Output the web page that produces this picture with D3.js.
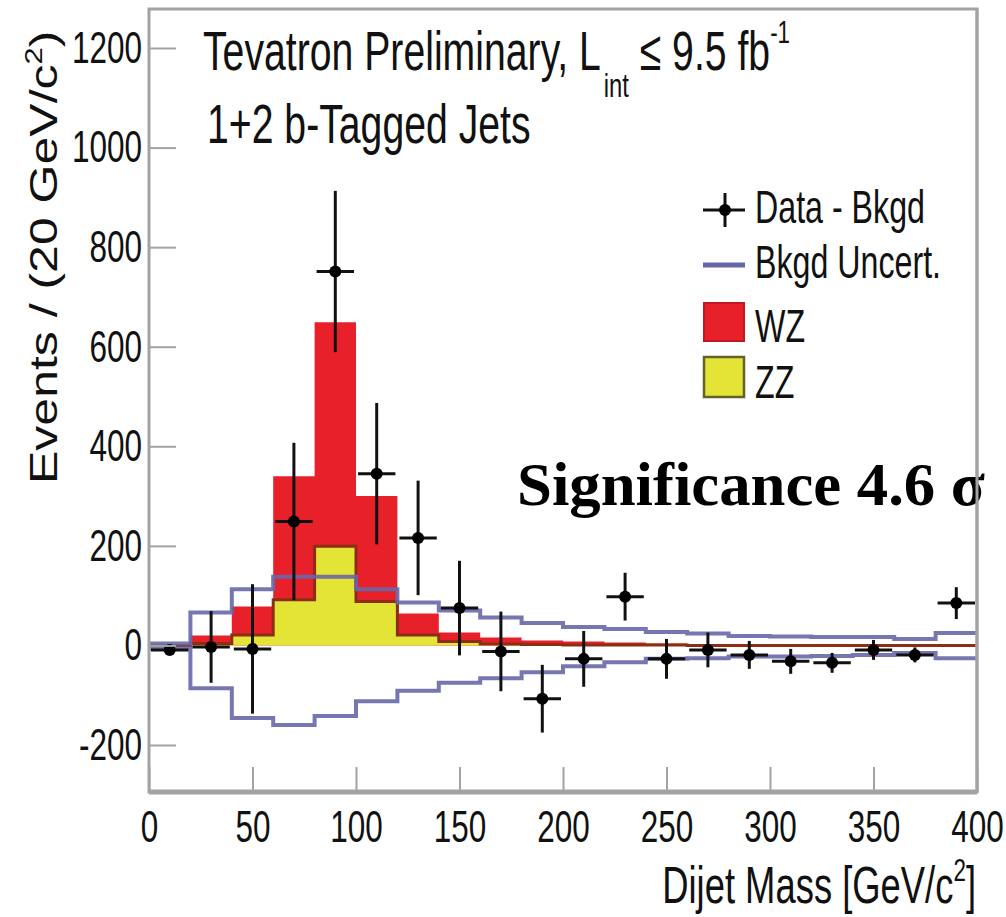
<!DOCTYPE html>
<html>
<head>
<meta charset="utf-8">
<title>Dijet Mass</title>
<style>
  body { margin: 0; background: #fff; }
  text { font-family: "Liberation Sans", Arial, sans-serif; fill: #111; }
  text.note { font-family: "Liberation Serif", "Times New Roman", serif; font-weight: bold; fill: #000; }
</style>
</head>
<body>
<script src="https://d3js.org/d3.v7.min.js"></script>
<script>

var width = 1006,
    height = 917,
    frameLeft = 149, frameRight = 977, frameTop = 9, frameBottom = 792,
    squeeze = 0.7,               // the original picture is squashed sideways
    redFill = "#e8202a",
    yellowFill = "#e4e436",
    zzLine = "#8a2e14",
    bandColor = "#6767a8",
    frameColor = "#a3a3a3";

// histogram bins (lower edge, GeV/c^2), 20 GeV wide
var binLow = [0, 20, 40, 60, 80, 100, 120, 140, 160, 180, 200, 220, 240, 260, 280, 300, 320, 340, 360, 380];
var binWidth = 20;

// expected signal, stacked: ZZ at the bottom, WZ on top
var zzYield = [0, 4, 21, 92, 199, 88, 21, 8, 3, 2, 1, 1, 1, 0, 0, 0, 0, 0, 0, 0];
var wzYield = [0, 16, 57, 248, 450, 212, 43, 18, 13, 8, 7, 5, 3, 3, 2, 2, 2, 1, 1, 1];

// background uncertainty band (upper / lower edge)
var bkgUp   = [4, 66, 113, 138, 138, 113, 86, 70, 56, 45, 37, 33, 27, 24, 19, 18, 17, 17, 13, 25];
var bkgDown = [-6, -86, -146, -160, -142, -112, -91, -75, -66, -54, -42, -34, -27, -26, -22, -22, -21, -19, -15, -26];

// data minus background
var dataMass  = [10, 30, 50, 70, 90, 110, 130, 150, 170, 190, 210, 230, 250, 270, 290, 310, 330, 350, 370, 390];
var dataValue = [-9, -3, -7, 249, 751, 345, 216, 75, -12, -107, -27, 98, -27, -9, -19, -32, -35, -9, -19, 85];
var dataErr   = [9, 72, 130, 158, 162, 142, 115, 95, 80, 68, 56, 48, 40, 35, 28, 25, 20, 20, 15, 32];

var yMajor = [-200, 0, 200, 400, 600, 800, 1000, 1200];
var yMinor = [-250, -150, -100, -50, 50, 100, 150, 250, 300, 350, 450, 500, 550, 650, 700, 750, 850, 900, 950, 1050, 1100, 1150, 1250];
var xMajor = [0, 50, 100, 150, 200, 250, 300, 350, 400];
var xMinor = [10, 20, 30, 40, 60, 70, 80, 90, 110, 120, 130, 140, 160, 170, 180, 190, 210, 220, 230, 240,
              260, 270, 280, 290, 310, 320, 330, 340, 360, 370, 380, 390];

var svg = d3.select("body").append("svg")
    .attr("width", width)
    .attr("height", height);

var x = d3.scaleLinear().domain([0, 400]).range([frameLeft, frameRight]);
var y = d3.scaleLinear().domain([-200, 1200]).range([745, 48]);

// step points for a histogram, closing at the last bin edge
function steps(vals) {
    var pts = binLow.map(function (b, i) { return { m: b, v: vals[i] }; });
    pts.push({ m: binLow[binLow.length - 1] + binWidth, v: vals[vals.length - 1] });
    return pts;
}

var stackTop = zzYield.map(function (d, i) { return d + wzYield[i]; });

var area = d3.area()
    .curve(d3.curveStepAfter)
    .x(function (d) { return x(d.m); })
    .y0(y(0))
    .y1(function (d) { return y(d.v); });

var stepLine = d3.line()
    .curve(d3.curveStepAfter)
    .x(function (d) { return x(d.m); })
    .y(function (d) { return y(d.v); });

var plot = svg.append("g");

// WZ (drawn as full stack) then ZZ over it
plot.append("path").attr("d", area(steps(stackTop))).attr("fill", redFill);
plot.append("path").attr("d", area(steps(zzYield))).attr("fill", yellowFill);
plot.append("path").attr("d", stepLine(steps(zzYield)))
    .attr("fill", "none").attr("stroke", zzLine).attr("stroke-width", 3);

// background uncertainty band
[bkgUp, bkgDown].forEach(function (vals) {
    plot.append("path").attr("d", stepLine(steps(vals)))
        .attr("fill", "none").attr("stroke", bandColor).attr("stroke-width", 4)
        .attr("stroke-opacity", 0.9);
});

// data points with error bars
var pts = plot.selectAll("g.pt")
    .data(dataMass.map(function (m, i) { return { m: m, v: dataValue[i], e: dataErr[i] }; }))
    .enter().append("g").attr("class", "pt");

pts.append("line")
    .attr("x1", function (d) { return x(d.m - binWidth / 2) + 2; })
    .attr("x2", function (d) { return x(d.m + binWidth / 2) - 2; })
    .attr("y1", function (d) { return y(d.v); })
    .attr("y2", function (d) { return y(d.v); })
    .attr("stroke", "#111").attr("stroke-width", 3);
pts.append("line")
    .attr("x1", function (d) { return x(d.m); })
    .attr("x2", function (d) { return x(d.m); })
    .attr("y1", function (d) { return y(d.v + d.e); })
    .attr("y2", function (d) { return y(d.v - d.e); })
    .attr("stroke", "#111").attr("stroke-width", 3);
pts.append("circle")
    .attr("cx", function (d) { return x(d.m); })
    .attr("cy", function (d) { return y(d.v); })
    .attr("r", 6).attr("fill", "#000");

// axes: ticks point into the frame
var plain = function (d) { return String(d); };

var axisY = svg.append("g").attr("transform", "translate(" + frameLeft + ",0)");
axisY.call(d3.axisLeft(y).tickValues(yMinor).tickSize(-13).tickFormat(""));
axisY.call(d3.axisLeft(y).tickValues(yMajor).tickSize(-27).tickPadding(7).tickFormat(plain));
axisY.selectAll(".domain").remove();
axisY.selectAll("line").attr("stroke", frameColor).attr("stroke-width", 2);
axisY.selectAll("text")
    .attr("font-size", 45)
    .attr("fill", "#222")
    .attr("x", -7 / squeeze)
    .attr("transform", "scale(" + squeeze + ",1)");

var axisX = svg.append("g").attr("transform", "translate(0," + frameBottom + ")");
axisX.call(d3.axisBottom(x).tickValues(xMinor).tickSize(-13).tickFormat(""));
axisX.call(d3.axisBottom(x).tickValues(xMajor).tickSize(-25).tickPadding(18).tickFormat(plain));
axisX.selectAll(".domain").remove();
axisX.selectAll("line").attr("stroke", frameColor).attr("stroke-width", 2);
axisX.selectAll("text")
    .attr("font-size", 45)
    .attr("fill", "#222")
    .attr("transform", "scale(" + squeeze + ",1)");

// frame
svg.append("rect")
    .attr("x", frameLeft).attr("y", frameTop)
    .attr("width", frameRight - frameLeft).attr("height", frameBottom - frameTop)
    .attr("fill", "none").attr("stroke", frameColor).attr("stroke-width", 3);
svg.append("line")
    .attr("x1", frameLeft).attr("x2", frameRight)
    .attr("y1", frameBottom).attr("y2", frameBottom)
    .attr("stroke", frameColor).attr("stroke-width", 5);

// squeezed text helper
function label(px, py, size) {
    return svg.append("g")
        .attr("transform", "translate(" + px + "," + py + ") scale(" + squeeze + ",1)")
        .append("text").attr("font-size", size);
}

var t1 = label(203, 70, 56);
t1.append("tspan").text("Tevatron Preliminary, L");
t1.append("tspan").attr("dy", 27).attr("dx", 4).attr("font-size", 34).text("int");
t1.append("tspan").attr("dy", -27).text(" \u2264 9.5 fb");
t1.append("tspan").attr("dy", -27).attr("font-size", 32).text("-1");

label(207, 143, 56).text("1+2 b-Tagged Jets");

// legend
var lg = svg.append("g");
lg.append("line").attr("x1", 703).attr("x2", 745).attr("y1", 210).attr("y2", 210)
    .attr("stroke", "#111").attr("stroke-width", 3);
lg.append("line").attr("x1", 725).attr("x2", 725).attr("y1", 193).attr("y2", 227)
    .attr("stroke", "#111").attr("stroke-width", 3);
lg.append("circle").attr("cx", 725).attr("cy", 210).attr("r", 6).attr("fill", "#000");
lg.append("line").attr("x1", 703).attr("x2", 745).attr("y1", 265).attr("y2", 265)
    .attr("stroke", bandColor).attr("stroke-width", 5);
lg.append("rect").attr("x", 704).attr("y", 303).attr("width", 40).attr("height", 38)
    .attr("fill", redFill).attr("stroke", "#c01a20").attr("stroke-width", 2);
lg.append("rect").attr("x", 704).attr("y", 357).attr("width", 40).attr("height", 40)
    .attr("fill", yellowFill).attr("stroke", "#64602a").attr("stroke-width", 2.5);

label(755, 223, 46).text("Data - Bkgd");
label(755, 278, 46).text("Bkgd Uncert.");
label(755, 342, 46).text("WZ");
label(755, 398, 46).text("ZZ");

// axis titles
var xt = label(976, 903, 52).attr("text-anchor", "end");
xt.append("tspan").text("Dijet Mass [GeV/c");
xt.append("tspan").attr("dy", -22).attr("font-size", 32).text("2");
xt.append("tspan").attr("dy", 22).text("]");

var yt = svg.append("g")
    .attr("transform", "translate(57,484) rotate(-90) scale(1,0.77)")
    .append("text").attr("font-size", 50);
yt.append("tspan").text("Events / (20 GeV/c");
yt.append("tspan").attr("dy", -20).attr("font-size", 31).text("2");
yt.append("tspan").attr("dy", 20).text(")");

// significance note
svg.append("text")
    .attr("class", "note")
    .attr("x", 517).attr("y", 505)
    .attr("font-size", 62)
    .attr("textLength", 468)
    .attr("lengthAdjust", "spacingAndGlyphs")
    .text("Significance 4.6 \u03c3");

svg.append("line")
    .attr("x1", frameRight).attr("x2", frameRight)
    .attr("y1", frameTop).attr("y2", frameBottom)
    .attr("stroke", frameColor).attr("stroke-width", 3);

</script>
</body>
</html>
